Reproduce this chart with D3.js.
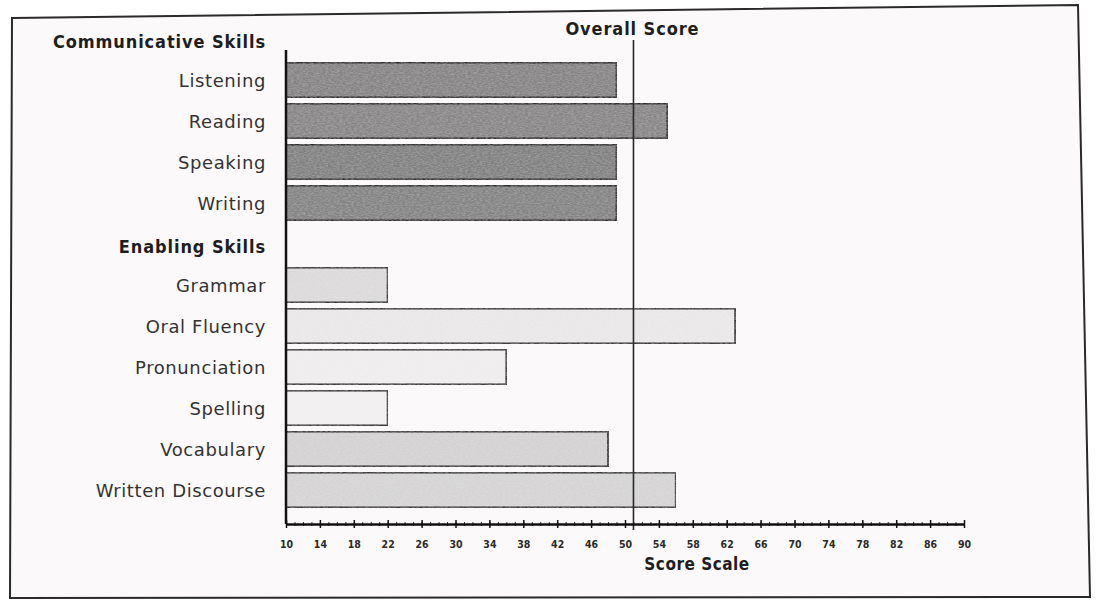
<!DOCTYPE html>
<html>
<head>
<meta charset="utf-8">
<script src="https://cdn.jsdelivr.net/npm/d3@7"></script>
<style>
  html, body { margin: 0; padding: 0; background: #ffffff; }
  svg { display: block; }
</style>
</head>
<body>
<svg id="chart" width="1099" height="601"></svg>
<script>
// Score profile: communicative and enabling skills on the 10–90 scale
const sectionTitles = ["Communicative Skills", "Enabling Skills"];
const communicativeSkills = ["Listening", "Reading", "Speaking", "Writing"];
const communicativeScores = [49, 55, 49, 49];
const enablingSkills = ["Grammar", "Oral Fluency", "Pronunciation", "Spelling", "Vocabulary", "Written Discourse"];
const enablingScores = [22, 63, 36, 22, 48, 56];
const overallScore = 51;
const scaleTicks = [10, 14, 18, 22, 26, 30, 34, 38, 42, 46, 50, 54, 58, 62, 66, 70, 74, 78, 82, 86, 90];
const scaleDomain = [10, 90];

// Row order: section header followed by its skills
const rows = [
  { label: sectionTitles[0], header: true },
  ...communicativeSkills.map((s, i) => ({ label: s, value: communicativeScores[i], group: "comm" })),
  { label: sectionTitles[1], header: true },
  ...enablingSkills.map((s, i) => ({ label: s, value: enablingScores[i], group: "enab" }))
];

const fills = {
  "Listening": "#858383", "Reading": "#878585", "Speaking": "#818080", "Writing": "#848383",
  "Grammar": "#dcdada", "Oral Fluency": "#e9e7e7", "Pronunciation": "#efeded",
  "Spelling": "#f1efef", "Vocabulary": "#d3d1d1", "Written Discourse": "#d6d4d4"
};

const svg = d3.select("#chart");

// Paper frame (slightly skewed, as on a scanned sheet)
svg.append("path")
  .attr("d", "M12,18 L1078,5 L1090,597 L10,598 Z")
  .attr("fill", "#fbf9f9")
  .attr("stroke", "#2a2a2a")
  .attr("stroke-width", 2);

// Grain texture
const defs = svg.append("defs");
const grain = defs.append("filter").attr("id", "grain").attr("x", 0).attr("y", 0).attr("width", 1).attr("height", 1);
grain.append("feTurbulence").attr("type", "fractalNoise").attr("baseFrequency", "0.35 0.9").attr("numOctaves", 2).attr("seed", 4).attr("result", "noise");
grain.append("feColorMatrix").attr("in", "noise").attr("type", "matrix")
  .attr("values", "0 0 0 0 0  0 0 0 0 0  0 0 0 0 0  0 0 0 -1.1 0.75").attr("result", "spots");
grain.append("feComposite").attr("in", "spots").attr("in2", "SourceGraphic").attr("operator", "in").attr("result", "mask");
grain.append("feFlood").attr("flood-color", "#ffffff").attr("flood-opacity", 0.28).attr("result", "white");
grain.append("feComposite").attr("in", "white").attr("in2", "mask").attr("operator", "in").attr("result", "light");
grain.append("feMerge").call(m => { m.append("feMergeNode").attr("in", "SourceGraphic"); m.append("feMergeNode").attr("in", "light"); });

const x = d3.scaleLinear().domain(scaleDomain).range([286, 964]);
const y = d3.scaleBand().domain(rows.map(r => r.label)).range([18.5, 510.5]).paddingInner(0.15).paddingOuter(0.075);

const labelFont = "'DejaVu Sans', Verdana, sans-serif";
const boldFont = "'DejaVu Sans Condensed', 'DejaVu Sans', sans-serif";

// Bars
svg.append("g").selectAll("rect")
  .data(rows.filter(r => !r.header))
  .join("rect")
  .attr("x", x(scaleDomain[0]))
  .attr("y", d => y(d.label))
  .attr("width", d => x(d.value) - x(scaleDomain[0]))
  .attr("height", y.bandwidth())
  .attr("fill", d => fills[d.label])
  .attr("stroke", d => d.group === "comm" ? "#2e2e2e" : "#3a3a3a")
  .attr("stroke-width", 2)
  .attr("filter", "url(#grain)");

// Row labels
svg.append("g").selectAll("text")
  .data(rows)
  .join("text")
  .attr("x", 266)
  .attr("y", d => y(d.label) + y.bandwidth() / 2 + (d.header ? 4 : 2))
  .attr("text-anchor", "end")
  .attr("dominant-baseline", "middle")
  .attr("font-family", d => d.header ? boldFont : labelFont)
  .attr("font-weight", d => d.header ? "bold" : "normal")
  .attr("font-size", 18)
  .attr("letter-spacing", d => d.header ? 0.9 : 0.6)
  .attr("fill", d => d.header ? "#1e1e1e" : "#333")
  .text(d => d.label);

// Vertical axis line
svg.append("line")
  .attr("x1", x(scaleDomain[0])).attr("x2", x(scaleDomain[0]))
  .attr("y1", 50).attr("y2", 524)
  .attr("stroke", "#111").attr("stroke-width", 2.5);

// Overall score marker
svg.append("line")
  .attr("x1", x(overallScore)).attr("x2", x(overallScore))
  .attr("y1", 40).attr("y2", 530)
  .attr("stroke", "#2a2a2a").attr("stroke-width", 1.6);
svg.append("text")
  .attr("x", x(overallScore) - 1).attr("y", 35)
  .attr("text-anchor", "middle")
  .attr("font-family", boldFont).attr("font-weight", "bold").attr("font-size", 18)
  .attr("letter-spacing", 0.9)
  .attr("fill", "#1e1e1e")
  .text("Overall Score");

// Score scale axis: minor ticks every point, major ticks with labels
const axisY = 524;
const minor = svg.append("g").attr("transform", `translate(0,${axisY})`)
  .call(d3.axisBottom(x).tickValues(d3.range(scaleDomain[0], scaleDomain[1] + 1, 1)).tickSize(2).tickFormat(""));
minor.select(".domain").remove();
minor.selectAll(".tick line").attr("y1", -2).attr("stroke", "#333").attr("stroke-width", 1);

const major = svg.append("g").attr("transform", `translate(0,${axisY})`)
  .call(d3.axisBottom(x).tickValues(scaleTicks).tickSize(4).tickPadding(13).tickSizeOuter(0));
major.select(".domain").attr("stroke", "#111").attr("stroke-width", 2.5);
major.selectAll(".tick line").attr("y1", -4).attr("stroke", "#111").attr("stroke-width", 1.5);
major.selectAll(".tick text")
  .attr("font-family", boldFont).attr("font-weight", "bold").attr("font-size", 10.5)
  .attr("fill", "#2a2a2a");

svg.append("text")
  .attr("x", 697).attr("y", 570)
  .attr("text-anchor", "middle")
  .attr("font-family", boldFont).attr("font-weight", "bold").attr("font-size", 17)
  .attr("letter-spacing", 0.5)
  .attr("fill", "#1e1e1e")
  .text("Score Scale");
</script>
</body>
</html>
